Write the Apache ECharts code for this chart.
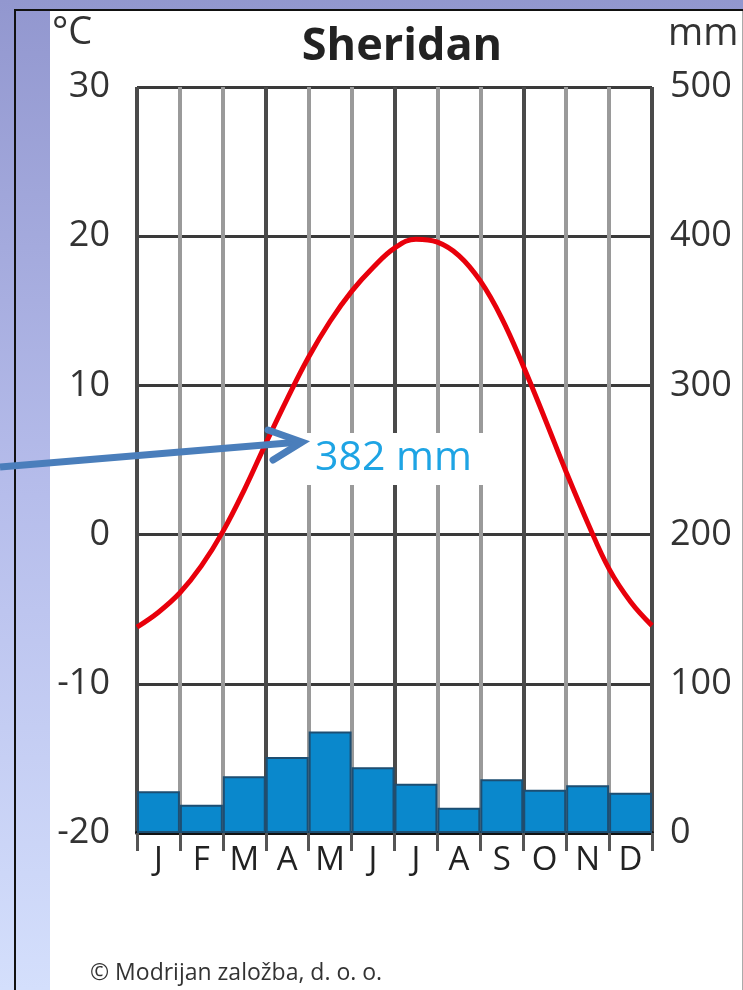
<!DOCTYPE html>
<html>
<head>
<meta charset="utf-8">
<script src="https://cdn.jsdelivr.net/npm/echarts@6/dist/echarts.min.js"></script>
<style>
  html, body { margin: 0; padding: 0; width: 743px; height: 990px; overflow: hidden; }
  body { background: linear-gradient(to bottom, #9297cf 0%, #b6bdeb 50%, #d4dffc 100%); position: relative; }
  #frameTop { position: absolute; left: 15px; top: 9px; width: 728px; height: 2px; background: #111; }
  #frameLeft { position: absolute; left: 14px; top: 9px; width: 2px; height: 981px; background: #111; }
  #panel { position: absolute; left: 50px; top: 11px; width: 692px; height: 979px; background: #fff; border-right: 1px solid #aaa; }
  #chart { position: absolute; left: 0; top: 0; width: 743px; height: 990px; }
</style>
</head>
<body>
<div id="frameTop"></div>
<div id="frameLeft"></div>
<div id="panel"></div>
<div id="chart"></div>
<script>
const months = ['J','F','M','A','M','J','J','A','S','O','N','D'];
const precipMm = [28, 19, 38, 51, 68, 44, 33, 17, 36, 29, 32, 27];
// temperature curve read along the month axis every half month (0 = start of Jan, 12 = end of Dec)
const tempMonthPos = [0, 0.5, 1, 1.5, 2, 2.5, 3, 3.5, 4, 4.5, 5, 5.5, 6, 6.5, 7, 7.5, 8, 8.5, 9, 9.5, 10, 10.5, 11, 11.5, 12];
const tempC = [-6.2, -5.2, -3.9, -2.1, 0.2, 3.0, 6.1, 9.1, 11.9, 14.3, 16.3, 17.9, 19.2, 19.8, 19.6, 18.7, 17.0, 14.5, 11.3, 7.8, 4.2, 0.8, -2.3, -4.5, -6.1];
const tempTicks = { min: -20, max: 30, interval: 10 };
const precipTicks = { min: 0, max: 500, interval: 100 };
const titleText = 'Sheridan';
const totalText = '382 mm';

const FONT = 'Open Sans';
const chart = echarts.init(document.getElementById('chart'), null, { renderer: 'canvas' });
chart.setOption({
  backgroundColor: 'transparent',
  animation: false,
  title: {
    text: titleText, left: 397, top: 20, textAlign: 'center',
    textStyle: { fontFamily: FONT, fontSize: 45, fontWeight: 'bold', color: '#222' }
  },
  grid: { left: 137, right: 91, top: 87, bottom: 157, outerBoundsMode: 'none', containLabel: false },
  xAxis: [
    {
      type: 'category', data: months, boundaryGap: true,
      axisLine: { show: true, onZero: false, lineStyle: { color: '#111', width: 4 } },
      axisTick: { show: true, length: 18, interval: 0, lineStyle: { color: '#555', width: 3 } },
      axisLabel: { interval: 0, margin: 11, fontFamily: FONT, fontSize: 33, color: '#222' },
      splitLine: { show: true, interval: 0, lineStyle: { color: ['#4a4a4a', '#9a9a9a', '#9a9a9a'], width: 4 } }
    },
    { type: 'value', min: 0, max: 12, show: false, splitLine: { show: false } }
  ],
  yAxis: [
    {
      type: 'value', min: tempTicks.min, max: tempTicks.max, interval: tempTicks.interval,
      axisLine: { show: false }, axisTick: { show: false },
      axisLabel: { margin: 27, fontFamily: FONT, fontSize: 36, color: '#333' },
      splitLine: { show: true, lineStyle: { color: '#3a3a3a', width: 3 } }
    },
    {
      type: 'value', min: precipTicks.min, max: precipTicks.max, interval: precipTicks.interval,
      position: 'right',
      axisLine: { show: false }, axisTick: { show: false }, splitLine: { show: false },
      axisLabel: { margin: 18, align: 'left', fontFamily: FONT, fontSize: 36, color: '#333' }
    }
  ],
  series: [
    {
      type: 'bar', xAxisIndex: 0, yAxisIndex: 1, data: precipMm,
      barWidth: '100%', barCategoryGap: 0, z: 3,
      itemStyle: { color: '#0a88cc', borderColor: '#1d4e72', borderWidth: 2 }
    },
    {
      type: 'line', xAxisIndex: 1, yAxisIndex: 0,
      data: tempMonthPos.map((p, i) => [p, tempC[i]]),
      smooth: 0.4, showSymbol: false, z: 5,
      lineStyle: { color: '#e8000b', width: 5 }
    }
  ],
  graphic: [
    { type: 'text', left: 52, top: 14, z: 100, style: { text: '°C', font: 'normal 38px "Open Sans"', fill: '#333' } },
    { type: 'text', left: 668, top: 15, z: 100, style: { text: 'mm', font: 'normal 38px "Open Sans"', fill: '#333' } },
    { type: 'rect', z: 100, shape: { x: 302, y: 433, width: 188, height: 52 }, style: { fill: '#fff' } },
    { type: 'text', left: 315, top: 438, z: 101, style: { text: totalText, font: 'normal 41px "Open Sans"', fill: '#1ea4e4' } },
    { type: 'polyline', z: 102, shape: { points: [[0, 467], [300, 442]] }, style: { stroke: '#4a7ebb', lineWidth: 7, fill: null } },
    { type: 'polyline', z: 102, shape: { points: [[268, 430], [302, 442], [273, 460]] }, style: { stroke: '#4a7ebb', lineWidth: 7, fill: null, lineCap: 'round', lineJoin: 'miter' } },
    { type: 'text', left: 90, top: 962, z: 100, style: { text: '© Modrijan založba, d. o. o.', font: 'normal 23px "Open Sans"', fill: '#333' } }
  ]
});
</script>
</body>
</html>
